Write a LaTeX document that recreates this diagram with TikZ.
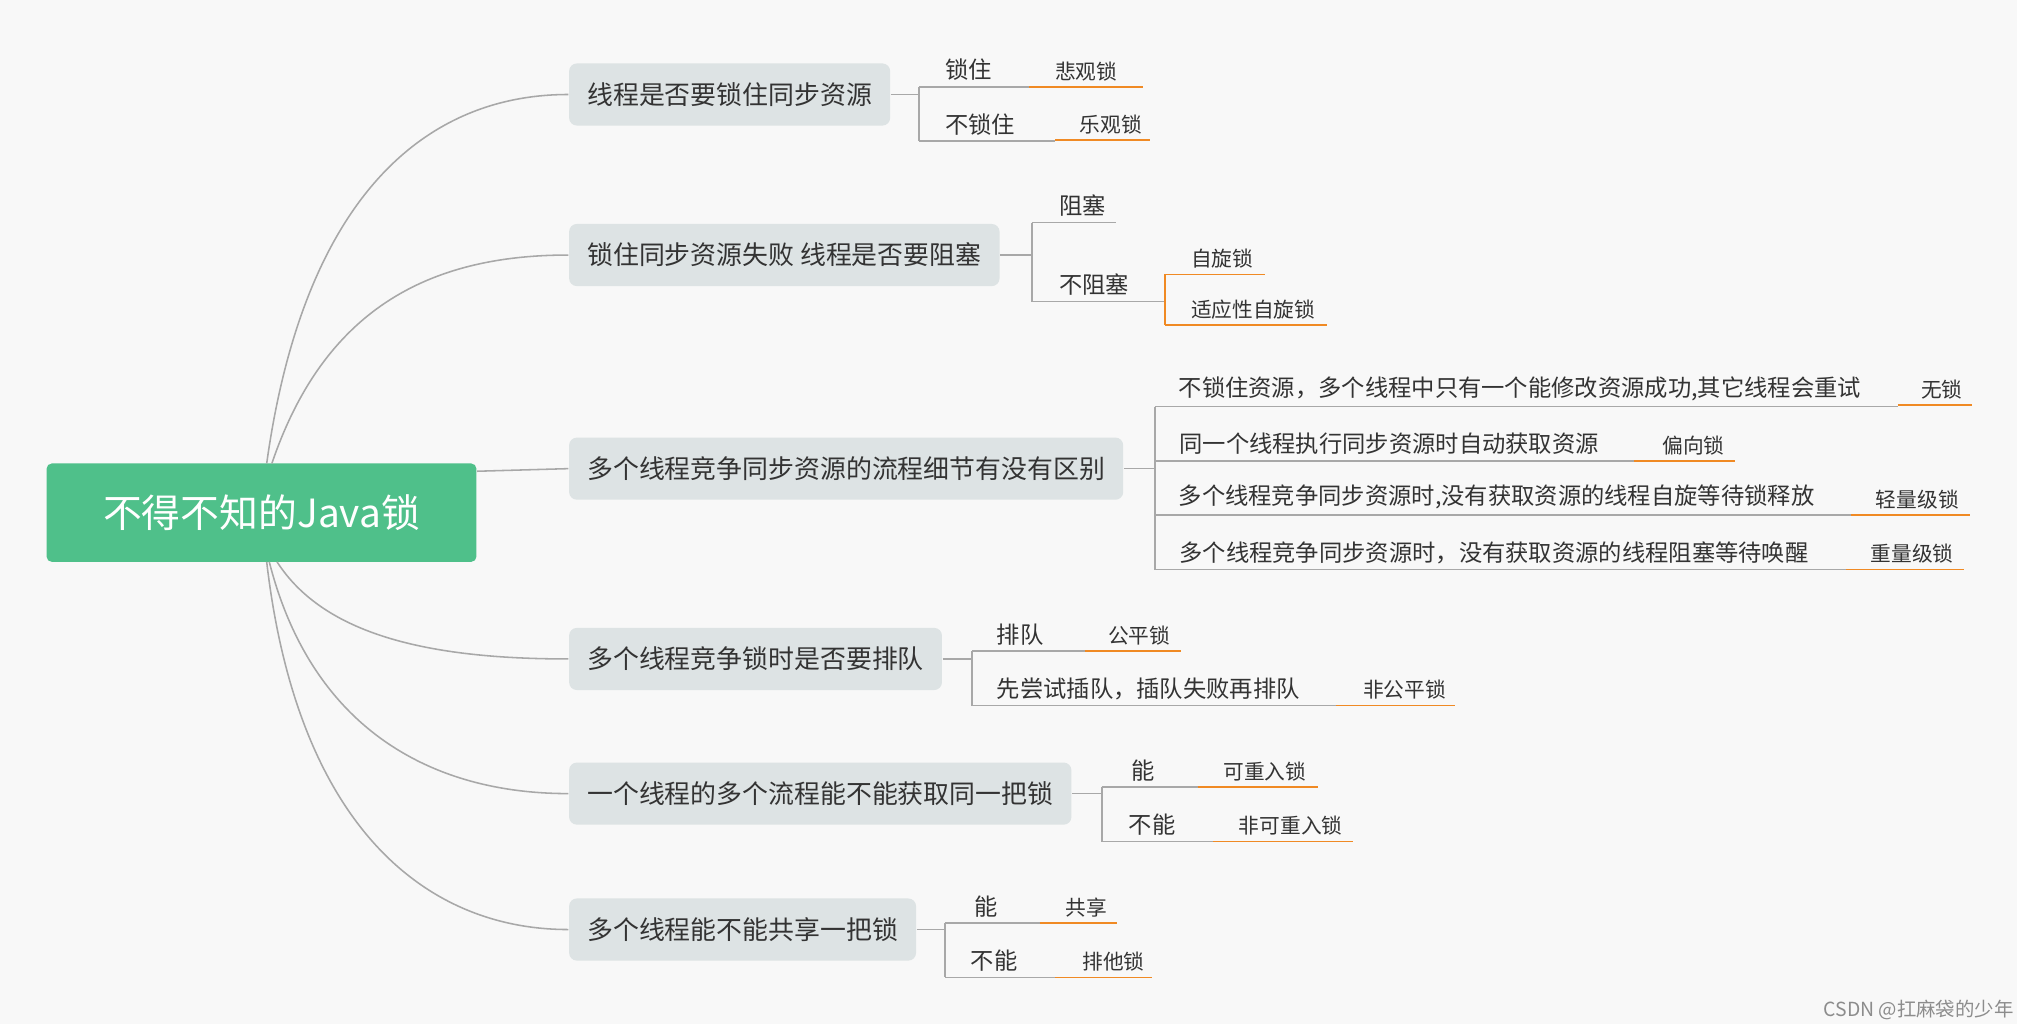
\documentclass[tikz,border=0pt]{standalone}
\usepackage{fontspec}
\setmainfont{Noto Sans CJK SC}
\usetikzlibrary{positioning}
\definecolor{bgc}{HTML}{F8F8F8}
\definecolor{rootc}{HTML}{4FC08A}
\definecolor{boxc}{HTML}{DDE3E4}
\definecolor{linec}{HTML}{A8A8A8}
\definecolor{orc}{HTML}{F08A24}
\definecolor{txtc}{HTML}{333333}
% grey underlined label: x1, x2, y, text x, text
\newcommand{\gleaf}[5]{\draw[linec] (#1,#3) -- (#2,#3); \node[sub] at (#4,#3) {#5};}
% orange underlined label
\newcommand{\oleaf}[5]{\draw[orc] (#1,#3) -- (#2,#3); \node[tip] at (#4,#3) {#5};}
\begin{document}
\begin{tikzpicture}[
	x = 0.5pt, y = -0.5pt,
	thick,
	line width = 0.6pt,
	root/.style={fill=rootc, rounded corners=2pt, minimum width=166pt, minimum height=38pt, text=white, font=\fontsize{15}{15}\selectfont},
	branch/.style={fill=boxc, rounded corners=3pt, minimum height=24pt, inner xsep=7pt, anchor=west, text=txtc, font=\fontsize{10}{10}\selectfont},
	sub/.style={anchor=south, inner sep=2pt, text=txtc, font=\fontsize{9}{9}\selectfont},
	tip/.style={anchor=south, inner sep=2pt, text=txtc, font=\fontsize{8}{8}\selectfont},
	]
	\fill[bgc] (0,0) rectangle (1558,791);
	\useasboundingbox (0,0) rectangle (1558,791);

	% Root and branches
	\node[root] (J) at (202,396) {不得不知的Java锁};
	\node[branch] (B1) at (439,73) {线程是否要锁住同步资源};
	\node[branch] (B2) at (439,197) {锁住同步资源失败 线程是否要阻塞};
	\node[branch] (B3) at (439,362) {多个线程竞争同步资源的流程细节有没有区别};
	\node[branch] (B4) at (439,509) {多个线程竞争锁时是否要排队};
	\node[branch] (B5) at (439,613) {一个线程的多个流程能不能获取同一把锁};
	\node[branch] (B6) at (439,718) {多个线程能不能共享一把锁};

	% Curves from the root
	\draw[linec] (206,358) .. controls (235,150) and (330,73) .. (B1.west);
	\draw[linec] (210,358) .. controls (250,240) and (330,197) .. (B2.west);
	\draw[linec] (J.east |- 0,364) -- (B3.west);
	\draw[linec] (214,434) .. controls (250,490) and (330,509) .. (B4.west);
	\draw[linec] (208,434) .. controls (240,560) and (330,613) .. (B5.west);
	\draw[linec] (206,434) .. controls (230,640) and (330,718) .. (B6.west);

	% Branch 1
	\draw[linec] (B1.east) -- (710,73);
	\draw[linec] (710,67) -- (710,109);
	\gleaf{710}{795}{67}{748}{锁住}
	\oleaf{795}{883}{67}{839}{悲观锁}
	\gleaf{710}{815}{109}{757}{不锁住}
	\oleaf{815}{888}{108}{858}{乐观锁}

	% Branch 2
	\draw[linec] (B2.east) -- (797,197);
	\draw[linec] (797,172) -- (797,233);
	\gleaf{797}{862}{172}{836}{阻塞}
	\gleaf{797}{900}{233}{845}{不阻塞}
	\draw[orc] (900,212) -- (900,251);
	\oleaf{900}{977}{212}{944}{自旋锁}
	\oleaf{900}{1025}{251}{968}{适应性自旋锁}

	% Branch 3
	\draw[linec] (B3.east) -- (892,362);
	\draw[linec] (892,314) -- (892,440);
	\gleaf{892}{1466}{314}{1174}{不锁住资源，多个线程中只有一个能修改资源成功,其它线程会重试}
	\oleaf{1466}{1523}{313}{1500}{无锁}
	\gleaf{892}{1262}{356}{1073}{同一个线程执行同步资源时自动获取资源}
	\oleaf{1262}{1340}{356}{1308}{偏向锁}
	\gleaf{892}{1430}{398}{1156}{多个线程竞争同步资源时,没有获取资源的线程自旋等待锁释放}
	\oleaf{1430}{1522}{398}{1481}{轻量级锁}
	\gleaf{892}{1426}{440}{1154}{多个线程竞争同步资源时，没有获取资源的线程阻塞等待唤醒}
	\oleaf{1426}{1517}{440}{1477}{重量级锁}

	% Branch 4
	\draw[linec] (B4.east) -- (751,509);
	\draw[linec] (751,503) -- (751,545);
	\gleaf{751}{838}{503}{788}{排队}
	\oleaf{838}{912}{503}{880}{公平锁}
	\gleaf{751}{1032}{545}{887}{先尝试插队，插队失败再排队}
	\oleaf{1032}{1124}{545}{1085}{非公平锁}

	% Branch 5
	\draw[linec] (B5.east) -- (851,613);
	\draw[linec] (851,608) -- (851,650);
	\gleaf{851}{925}{608}{883}{能}
	\oleaf{925}{1018}{608}{977}{可重入锁}
	\gleaf{851}{937}{650}{890}{不能}
	\oleaf{937}{1045}{650}{997}{非可重入锁}

	% Branch 6
	\draw[linec] (B6.east) -- (730,718);
	\draw[linec] (730,713) -- (730,755);
	\gleaf{730}{803}{713}{762}{能}
	\oleaf{803}{863}{713}{839}{共享}
	\gleaf{730}{815}{755}{768}{不能}
	\oleaf{815}{890}{755}{860}{排他锁}

	\node[text=black!45, font=\fontsize{7.5}{7.5}\selectfont] (W) at (1482,780) {CSDN @扛麻袋的少年};
\end{tikzpicture}
\end{document}
